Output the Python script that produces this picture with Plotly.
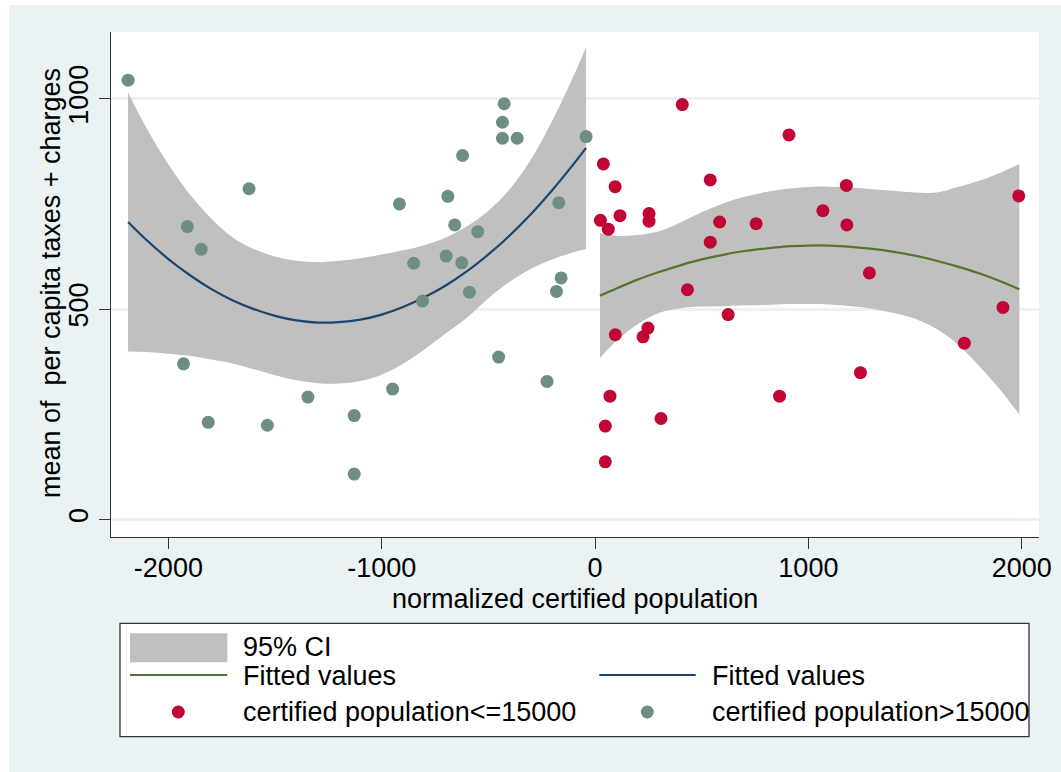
import plotly.graph_objects as go

# ---------------- data ----------------
# certified population > 15000 (left group)
big_x = [-2189, -1622, -1911, -1846, -917, -850, -690, -621, -426, -434, -434, -365, -42,
         -170, -658, -550, -698, -625, -159, -181, -589, -809, -452, -225, -1929, -1813,
         -1536, -1346, -1129, -1129, -949]
big_y = [1044, 786, 696, 642, 750, 609, 768, 865, 988, 944, 906, 906, 910,
         753, 700, 684, 626, 610, 574, 542, 540, 519, 386, 328, 370, 231,
         224, 291, 247, 108, 310]

# certified population <= 15000 (right group)
small_x = [409, 39, 94, 540, 25, 62, 117, 253, 253, 584, 540, 433, 909, 1178, 1068, 1180,
           755, 1986, 1286, 1912, 624, 95, 248, 225, 1731, 1244, 70, 865, 309, 48, 48]
small_y = [986, 845, 791, 807, 711, 690, 722, 727, 709, 707, 659, 546, 914, 794, 734, 700,
           703, 769, 586, 504, 487, 439, 455, 434, 419, 349, 293, 293, 240, 222, 137]

# fitted values and 95% CI (left group)
left_fit_x = [-2189, -2100, -2000, -1900, -1800, -1700, -1600, -1500, -1400, -1300, -1200,
              -1100, -1000, -900, -800, -700, -600, -500, -400, -300, -200, -100, -42]
left_fit_y = [707, 663, 619, 581, 548, 521, 500, 484, 473, 468, 469,
              475, 487, 505, 528, 556, 590, 630, 675, 726, 783, 845, 883]
left_ci_hi = [1015, 928, 844, 773, 716, 671, 643, 625, 615, 612, 615,
              621, 630, 640, 652, 670, 697, 734, 785, 856, 948, 1055, 1123]
left_ci_lo = [399, 398, 394, 389, 380, 371, 357, 343, 331, 324, 323,
              329, 344, 370, 404, 442, 480, 526, 565, 596, 618, 635, 643]

# fitted values and 95% CI (right group)
right_fit_x = [23, 100, 200, 300, 400, 500, 600, 700, 800, 900, 1000, 1100, 1200,
               1300, 1400, 1500, 1600, 1700, 1800, 1900, 1989]
right_fit_y = [532, 549, 570, 588, 604, 618, 629, 638, 644, 649, 651, 651, 648,
               643, 636, 627, 615, 601, 585, 566, 547]
right_ci_hi = [680, 674, 676, 685, 706, 730, 751, 767, 778, 786, 790, 791, 789,
               785, 781, 777, 777, 790, 805, 824, 845]
right_ci_lo = [384, 424, 464, 491, 502, 506, 507, 509, 510, 512, 512, 511, 507,
               501, 491, 477, 453, 416, 365, 308, 249]

x_ticks = [-2000, -1000, 0, 1000, 2000]
y_ticks = [0, 500, 1000]

x_title = "normalized certified population"
y_title = "mean of  per capita taxes + charges"
legend_labels = ["95% CI", "Fitted values", "Fitted values",
                 "certified population<=15000", "certified population>15000"]

# ---------------- styling ----------------
BG = "#EAF2F3"
CI = "#C0C0C0"
NAVY = "#1A476F"
FOREST = "#55752F"
CRAN = "#C10534"
TEAL = "#6E8E84"
AXIS = "#333333"
FONT = "Liberation Sans, Arial, sans-serif"
FS = 27

W, H = 1061, 772
ML, MR, MT, MB = 111, 22, 32, 235
PW, PH = W - ML - MR, H - MT - MB


def px(xp):
    return (xp - ML) / PW


def py(yp):
    return (H - MB - yp) / PH


fig = go.Figure()

# CI bands
fig.add_trace(go.Scatter(x=left_fit_x, y=left_ci_hi, mode="lines", line=dict(width=0, shape="spline"),
                         hoverinfo="skip", showlegend=False))
fig.add_trace(go.Scatter(x=left_fit_x, y=left_ci_lo, mode="lines", line=dict(width=0, shape="spline"),
                         fill="tonexty", fillcolor=CI, name=legend_labels[0], showlegend=False))
fig.add_trace(go.Scatter(x=right_fit_x, y=right_ci_hi, mode="lines", line=dict(width=0, shape="spline"),
                         hoverinfo="skip", showlegend=False))
fig.add_trace(go.Scatter(x=right_fit_x, y=right_ci_lo, mode="lines", line=dict(width=0, shape="spline"),
                         fill="tonexty", fillcolor=CI, name=legend_labels[0], showlegend=False))

# fitted lines
fig.add_trace(go.Scatter(x=right_fit_x, y=right_fit_y, mode="lines",
                         line=dict(color=FOREST, width=2.2, shape="spline"),
                         name=legend_labels[1], showlegend=False))
fig.add_trace(go.Scatter(x=left_fit_x, y=left_fit_y, mode="lines",
                         line=dict(color=NAVY, width=2.2, shape="spline"),
                         name=legend_labels[2], showlegend=False))

# points
fig.add_trace(go.Scatter(x=small_x, y=small_y, mode="markers",
                         marker=dict(color=CRAN, size=13, line=dict(width=0)),
                         name=legend_labels[3], showlegend=False))
fig.add_trace(go.Scatter(x=big_x, y=big_y, mode="markers",
                         marker=dict(color=TEAL, size=13, line=dict(width=0)),
                         name=legend_labels[4], showlegend=False))

shapes = []
annotations = []

# outer white strips of the graph region
shapes.append(dict(type="rect", xref="paper", yref="paper", x0=px(0), x1=px(W), y0=py(0), y1=py(5),
                   fillcolor="white", line=dict(width=0), layer="below"))
shapes.append(dict(type="rect", xref="paper", yref="paper", x0=px(0), x1=px(9), y0=py(0), y1=py(H),
                   fillcolor="white", line=dict(width=0), layer="below"))

# legend box
shapes.append(dict(type="rect", xref="paper", yref="paper", x0=px(120), x1=px(1029),
                   y0=py(736.7), y1=py(623.3), fillcolor="white", line=dict(color=AXIS, width=1.3)))
# CI patch
shapes.append(dict(type="rect", xref="paper", yref="paper", x0=px(130), x1=px(227.3),
                   y0=py(662.3), y1=py(633.3), fillcolor=CI, line=dict(width=0)))
# line keys
shapes.append(dict(type="line", xref="paper", yref="paper", x0=px(130), x1=px(227.3),
                   y0=py(675), y1=py(675), line=dict(color=FOREST, width=2.2)))
shapes.append(dict(type="line", xref="paper", yref="paper", x0=px(599.3), x1=px(695.7),
                   y0=py(675), y1=py(675), line=dict(color=NAVY, width=2.2)))
# marker keys
for cx, col in [(178.3, CRAN), (647.3, TEAL)]:
    shapes.append(dict(type="circle", xref="paper", yref="paper", x0=px(cx - 6.5), x1=px(cx + 6.5),
                       y0=py(712 + 6.5), y1=py(712 - 6.5), fillcolor=col, line=dict(width=0)))

for (tx, ty, txt) in [(242.3, 647, legend_labels[0]), (242.3, 676, legend_labels[1]),
                      (711, 676, legend_labels[2]), (242.3, 712.5, legend_labels[3]),
                      (711, 712.5, legend_labels[4])]:
    annotations.append(dict(x=px(tx), y=py(ty), xref="paper", yref="paper", text=txt,
                            showarrow=False, xanchor="left", yanchor="middle", borderpad=0,
                            font=dict(family=FONT, size=FS, color="black")))

# axis titles
annotations.append(dict(x=px(575), y=py(598.5), xref="paper", yref="paper", text=x_title,
                        showarrow=False, xanchor="center", yanchor="middle", borderpad=0,
                        font=dict(family=FONT, size=FS, color="black")))
annotations.append(dict(x=px(51), y=py(283), xref="paper", yref="paper", text=y_title,
                        textangle=-90, showarrow=False, xanchor="center", yanchor="middle",
                        borderpad=0, font=dict(family=FONT, size=FS, color="black")))

fig.update_layout(
    width=W, height=H,
    margin=dict(l=ML, r=MR, t=MT, b=MB, autoexpand=False),
    paper_bgcolor=BG, plot_bgcolor="white",
    font=dict(family=FONT, size=FS, color="black"),
    showlegend=False,
    shapes=shapes, annotations=annotations,
    xaxis=dict(range=[-2269, 2081], tickmode="array", tickvals=x_ticks,
               ticktext=[str(v) for v in x_ticks],
               ticks="outside", ticklen=11, tickwidth=1.3, tickcolor=AXIS,
               showline=True, linecolor=AXIS, linewidth=1.3, showgrid=False, zeroline=False,
               tickfont=dict(family=FONT, size=FS, color="black"), ticklabelstandoff=-5,
               automargin=False),
    yaxis=dict(range=[-41.6, 1158.5], tickmode="array", tickvals=y_ticks,
               ticktext=[str(v) for v in y_ticks], tickangle=-90,
               ticks="outside", ticklen=11, tickwidth=1.3, tickcolor=AXIS,
               showline=True, linecolor=AXIS, linewidth=1.3,
               showgrid=True, gridcolor=BG, gridwidth=2.5, zeroline=False,
               tickfont=dict(family=FONT, size=FS, color="black"), ticklabelstandoff=0,
               automargin=False),
)

fig.write_html("out.html", config={"displayModeBar": False},
               post_script="document.body.style.margin='0';")
